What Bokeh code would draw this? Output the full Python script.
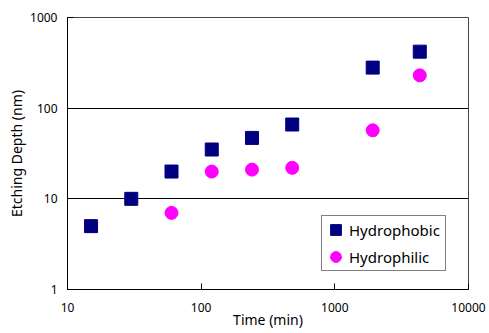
from bokeh.plotting import figure
from bokeh.models import Range1d, FixedTicker, PrintfTickFormatter, Legend, LegendItem
from bokeh.embed import file_html
from bokeh.resources import INLINE

time_hydrophobic = [15, 30, 60, 120, 240, 480, 1920, 4320]
depth_hydrophobic = [5, 10, 20, 35, 47, 66, 280, 420]
time_hydrophilic = [60, 120, 240, 480, 1920, 4320]
depth_hydrophilic = [7, 20, 21, 22, 57, 230]
x_ticks = [10, 100, 1000, 10000]
y_ticks = [1, 10, 100, 1000]

FONT = "Noto Sans"

p = figure(width=489, height=333, x_axis_type="log", y_axis_type="log",
           x_range=Range1d(10, 10000), y_range=Range1d(1, 1000),
           output_backend="svg", toolbar_location=None,
           min_border_left=67, min_border_right=21, min_border_top=17, min_border_bottom=44)
p.background_fill_color = "white"
p.border_fill_color = "white"
p.outline_line_color = "#444444"
p.outline_line_width = 1

for ax, ticks in ((p.xaxis, x_ticks), (p.yaxis, y_ticks)):
    ax.ticker = FixedTicker(ticks=ticks, minor_ticks=[])
    ax.formatter = PrintfTickFormatter(format="%d")
    ax.major_tick_in = 6
    ax.major_tick_out = 0
    ax.minor_tick_in = 0
    ax.minor_tick_out = 0
    ax.axis_line_color = "black"
    ax.major_tick_line_color = "black"
    ax.major_label_text_font = FONT
    ax.major_label_text_font_size = "12px"
    ax.major_label_text_color = "black"
    ax.axis_label_text_font = FONT
    ax.axis_label_text_font_size = "14px"
    ax.axis_label_text_font_style = "normal"
    ax.axis_label_text_color = "black"

p.xaxis.axis_label = "Time (min)"
p.yaxis.axis_label = "Etching Depth (nm)"
p.xaxis.major_label_standoff = 13
p.yaxis.major_label_standoff = 10
p.xaxis.axis_label_standoff = -5
p.yaxis.axis_label_standoff = 1

p.xgrid.grid_line_color = None
p.ygrid.ticker = FixedTicker(ticks=y_ticks, minor_ticks=[])
p.ygrid.grid_line_color = "black"
p.ygrid.grid_line_width = 1

r1 = p.scatter(time_hydrophobic, depth_hydrophobic, marker="square", size=13,
               fill_color="#000080", line_color="#000080")
r2 = p.scatter(time_hydrophilic, depth_hydrophilic, marker="circle", size=13,
               fill_color="#FF00FF", line_color="#FF00FF")

legend = Legend(items=[LegendItem(label="Hydrophobic", renderers=[r1]),
                       LegendItem(label="Hydrophilic", renderers=[r2])],
                location=(254, 18))
legend.border_line_color = "black"
legend.border_line_width = 1
legend.background_fill_color = "white"
legend.label_text_font = FONT
legend.label_text_font_size = "15px"
legend.label_text_color = "black"
legend.glyph_width = 27
legend.glyph_height = 27
legend.spacing = 0
legend.padding = 0
legend.margin = 0
legend.label_standoff = 0
legend.label_width = 96
legend.label_height = 25
p.add_layout(legend, "center")

open("out.html", "w").write(file_html(p, INLINE))
